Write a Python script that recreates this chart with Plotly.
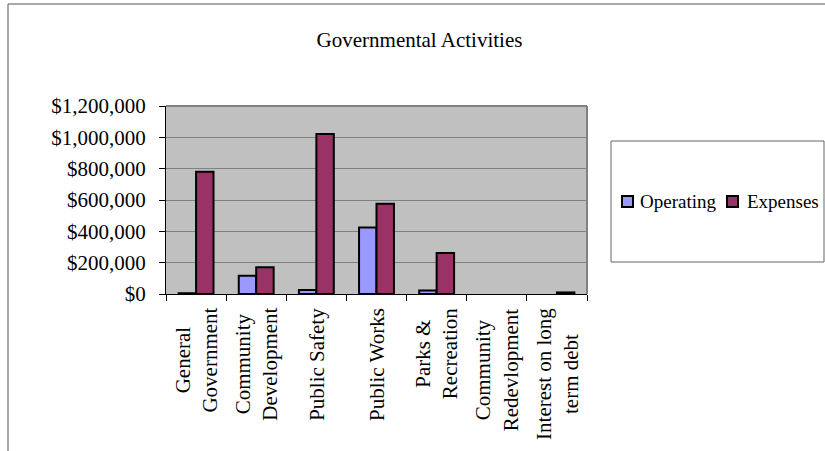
import plotly.graph_objects as go

categories = [
    "General Government",
    "Community Development",
    "Public Safety",
    "Public Works",
    "Parks & Recreation",
    "Community Redevlopment",
    "Interest on long term debt",
]
tick_labels = [
    "General<br>Government",
    "Community<br>Development",
    "Public Safety",
    "Public Works",
    "Parks &amp;<br>Recreation",
    "Community<br>Redevlopment",
    "Interest on long<br>term debt",
]
operating = [5000, 117000, 25000, 425000, 22000, None, None]
expenses = [780000, 170000, 1022000, 576000, 262000, None, 10000]
series_names = ["Operating", "Expenses"]
y_ticks = [0, 200000, 400000, 600000, 800000, 1000000, 1200000]

# style
W, H = 825, 451
L, R, T, B = 166, 238, 106, 157
PW, PH = W - L - R, H - T - B
FONT = "Liberation Serif, Times New Roman, serif"
COLORS = ["#9999FF", "#993366"]


def px(xp):
    return (xp - L) / PW


def py(yp):
    return (H - B - yp) / PH


fig = go.Figure()
for name, vals, col in zip(series_names, [operating, expenses], COLORS):
    fig.add_trace(go.Bar(x=categories, y=vals, name=name,
                         marker=dict(color=col, line=dict(color="black", width=2)),
                         showlegend=False))

shapes = [
    # outer frame
    dict(type="rect", xref="paper", yref="paper", x0=px(8), x1=px(840), y0=py(470), y1=py(4),
         line=dict(color="#555555", width=1), layer="below"),
    # plot area top/right border
    dict(type="line", xref="paper", yref="paper", x0=0, x1=1, y0=1, y1=1,
         line=dict(color="#808080", width=2)),
    dict(type="line", xref="paper", yref="paper", x0=1, x1=1, y0=0, y1=1,
         line=dict(color="#808080", width=2)),
    # legend box
    dict(type="rect", xref="paper", yref="paper", x0=px(611), x1=px(824), y0=py(262), y1=py(141),
         line=dict(color="#666666", width=1), fillcolor="white"),
]
annotations = []
# legend entries
leg_items = [(622, 638), (727, 745)]
for (sx, tx), name, col in zip(leg_items, series_names, COLORS):
    shapes.append(dict(type="rect", xref="paper", yref="paper", x0=px(sx), x1=px(sx + 11),
                       y0=py(207), y1=py(196), fillcolor=col, line=dict(color="black", width=2)))
    annotations.append(dict(x=px(tx), y=py(201), xref="paper", yref="paper", text=name,
                            showarrow=False, xanchor="left", yanchor="middle",
                            font=dict(family=FONT, size=19, color="black")))
# category labels (rotated, centred lines)
for cat, lab in zip(categories, tick_labels):
    annotations.append(dict(x=cat, xref="x", y=py(306), yref="paper", text=lab,
                            showarrow=False, textangle=-90, align="center",
                            xanchor="center", yanchor="top",
                            font=dict(family=FONT, size=21, color="black")))

fig.update_layout(
    width=W, height=H,
    margin=dict(l=L, r=R, t=T, b=B),
    paper_bgcolor="white", plot_bgcolor="#C0C0C0",
    title=dict(text="Governmental Activities", x=419.5 / W, xanchor="center",
               y=1 - 40 / H, yanchor="middle", font=dict(family=FONT, size=21, color="black")),
    bargap=0.42, bargroupgap=0, barmode="group",
    font=dict(family=FONT, size=21, color="black"),
    shapes=shapes, annotations=annotations,
    showlegend=False,
)
fig.update_xaxes(showline=True, linecolor="black", linewidth=1, ticks="outside", ticklen=6,
                 tickcolor="black", tickson="boundaries", showgrid=False,
                 showticklabels=False)
fig.update_yaxes(range=[0, 1200000], tickvals=y_ticks, tickformat="$,.0f", showline=True,
                 linecolor="black", linewidth=1, ticks="outside", ticklen=6, tickcolor="black",
                 showgrid=True, gridcolor="#808080", gridwidth=1, zeroline=False,
                 ticklabelstandoff=9, tickfont=dict(family=FONT, size=21, color="black"))

fig.write_html("out.html", config={"displayModeBar": False},
               post_script="document.body.style.margin='0';")
